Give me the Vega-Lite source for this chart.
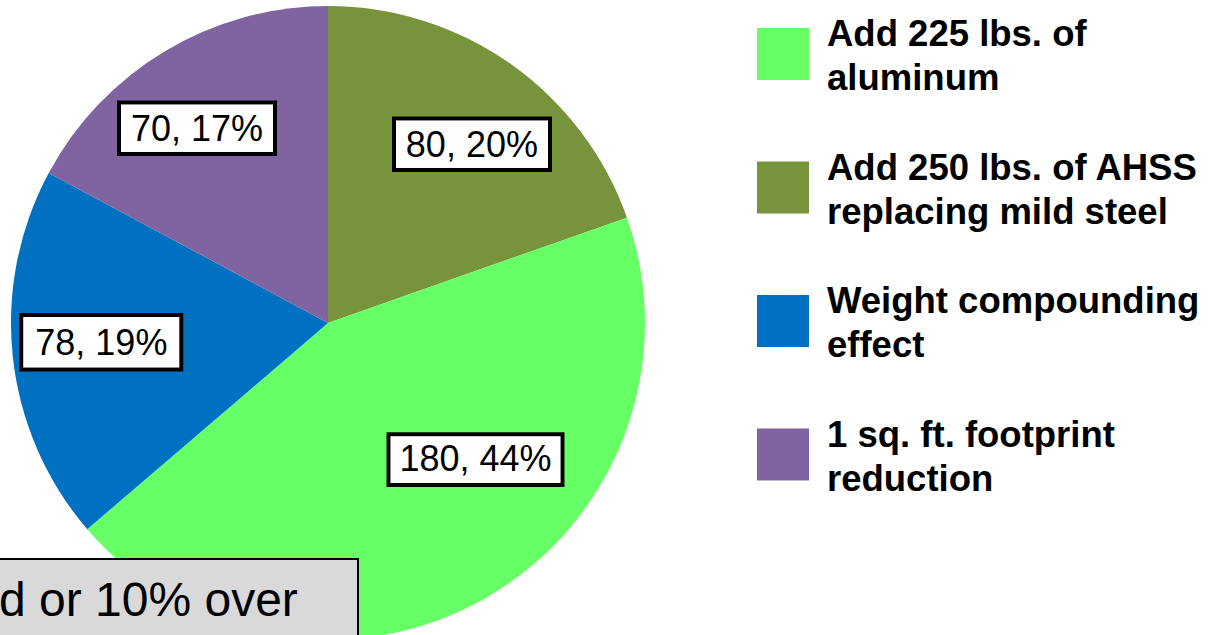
{
  "$schema": "https://vega.github.io/schema/vega-lite/v6.json",
  "width": 656,
  "height": 646,
  "autosize": {"type": "none"},
  "padding": {"left": 0, "top": 0, "right": 554, "bottom": 0},
  "background": "white",
  "config": {"view": {"stroke": null}, "style": {"guide-label": {"lineHeight": 44}}, "legend": {"strokeWidth": 2}},
  "data": {
    "values": [
      {"category": "Add 250 lbs. of AHSS replacing mild steel", "value": 80, "label": "80, 20%", "rank": 1},
      {"category": "Add 225 lbs. of aluminum", "value": 180, "label": "180, 44%", "rank": 2},
      {"category": "Weight compounding effect", "value": 78, "label": "78, 19%", "rank": 3},
      {"category": "1 sq. ft. footprint reduction", "value": 70, "label": "70, 17%", "rank": 4}
    ]
  },
  "layer": [
    {
      "mark": {"type": "arc", "outerRadius": 317},
      "encoding": {
        "theta": {"field": "value", "type": "quantitative", "stack": true},
        "order": {"field": "rank", "type": "quantitative"},
        "color": {
          "field": "category",
          "type": "nominal",
          "scale": {
            "domain": ["Add 225 lbs. of aluminum", "Add 250 lbs. of AHSS replacing mild steel", "Weight compounding effect", "1 sq. ft. footprint reduction"],
            "range": ["#66FF66", "#77933C", "#0070C0", "#8064A2"]
          },
          "legend": {
            "orient": "none",
            "legendX": 757,
            "legendY": 28,
            "title": null,
            "padding": 0,
            "symbolType": "square",
            "symbolSize": 2704,
            "symbolStrokeWidth": 0,
            "symbolOpacity": 1,
            "labelFont": "Liberation Sans",
            "labelFontSize": 36.5,
            "labelFontWeight": "bold",
            "labelColor": "#000000",
            "labelOffset": 18,
            "labelLimit": 600,
            "labelBaseline": "bottom",
            "rowPadding": 52.5,
            "labelExpr": "split(replace(replace(replace(replace(datum.label, ' aluminum', '|aluminum'), ' replacing', '|replacing'), ' effect', '|effect'), ' reduction', '|reduction'), '|')"
          }
        }
      }
    },
    {
      "mark": {"type": "text", "radius": 230, "font": "Liberation Sans", "fontSize": 112, "fill": "#000000", "stroke": "#000000", "strokeWidth": 48, "strokeJoin": "miter", "align": "center", "baseline": "middle", "dx": 11, "dy": 4},
      "encoding": {
        "theta": {"field": "value", "type": "quantitative", "stack": true},
        "order": {"field": "rank", "type": "quantitative"},
        "text": {"condition": {"test": "datum.rank === 1", "value": "—"}, "value": ""}
      }
    },
    {
      "mark": {"type": "text", "radius": 230, "font": "Liberation Sans", "fontSize": 112, "fill": "#FFFFFF", "stroke": "#FFFFFF", "strokeWidth": 40, "strokeJoin": "miter", "align": "center", "baseline": "middle", "dx": 11, "dy": 4},
      "encoding": {
        "theta": {"field": "value", "type": "quantitative", "stack": true},
        "order": {"field": "rank", "type": "quantitative"},
        "text": {"condition": {"test": "datum.rank === 1", "value": "—"}, "value": ""}
      }
    },
    {
      "mark": {"type": "text", "radius": 230, "font": "Liberation Sans", "fontSize": 36, "fill": "#000000", "align": "center", "baseline": "middle", "dx": 11, "dy": 11},
      "encoding": {
        "theta": {"field": "value", "type": "quantitative", "stack": true},
        "order": {"field": "rank", "type": "quantitative"},
        "text": {"condition": {"test": "datum.rank !== 1", "value": ""}, "field": "label"}
      }
    },
    {
      "mark": {"type": "text", "radius": 201, "font": "Liberation Sans", "fontSize": 132, "fill": "#000000", "stroke": "#000000", "strokeWidth": 46, "strokeJoin": "miter", "align": "center", "baseline": "middle", "dx": 47, "dy": -44},
      "encoding": {
        "theta": {"field": "value", "type": "quantitative", "stack": true},
        "order": {"field": "rank", "type": "quantitative"},
        "text": {"condition": {"test": "datum.rank === 2", "value": "—"}, "value": ""}
      }
    },
    {
      "mark": {"type": "text", "radius": 201, "font": "Liberation Sans", "fontSize": 132, "fill": "#FFFFFF", "stroke": "#FFFFFF", "strokeWidth": 38, "strokeJoin": "miter", "align": "center", "baseline": "middle", "dx": 47, "dy": -44},
      "encoding": {
        "theta": {"field": "value", "type": "quantitative", "stack": true},
        "order": {"field": "rank", "type": "quantitative"},
        "text": {"condition": {"test": "datum.rank === 2", "value": "—"}, "value": ""}
      }
    },
    {
      "mark": {"type": "text", "radius": 201, "font": "Liberation Sans", "fontSize": 36, "fill": "#000000", "align": "center", "baseline": "middle", "dx": 47, "dy": -37},
      "encoding": {
        "theta": {"field": "value", "type": "quantitative", "stack": true},
        "order": {"field": "rank", "type": "quantitative"},
        "text": {"condition": {"test": "datum.rank !== 2", "value": ""}, "field": "label"}
      }
    },
    {
      "mark": {"type": "text", "radius": 230, "font": "Liberation Sans", "fontSize": 113, "fill": "#000000", "stroke": "#000000", "strokeWidth": 51, "strokeJoin": "miter", "align": "center", "baseline": "middle", "dx": 2, "dy": -11},
      "encoding": {
        "theta": {"field": "value", "type": "quantitative", "stack": true},
        "order": {"field": "rank", "type": "quantitative"},
        "text": {"condition": {"test": "datum.rank === 3", "value": "—"}, "value": ""}
      }
    },
    {
      "mark": {"type": "text", "radius": 230, "font": "Liberation Sans", "fontSize": 113, "fill": "#FFFFFF", "stroke": "#FFFFFF", "strokeWidth": 43, "strokeJoin": "miter", "align": "center", "baseline": "middle", "dx": 2, "dy": -11},
      "encoding": {
        "theta": {"field": "value", "type": "quantitative", "stack": true},
        "order": {"field": "rank", "type": "quantitative"},
        "text": {"condition": {"test": "datum.rank === 3", "value": "—"}, "value": ""}
      }
    },
    {
      "mark": {"type": "text", "radius": 230, "font": "Liberation Sans", "fontSize": 36, "fill": "#000000", "align": "center", "baseline": "middle", "dx": 2, "dy": -4},
      "encoding": {
        "theta": {"field": "value", "type": "quantitative", "stack": true},
        "order": {"field": "rank", "type": "quantitative"},
        "text": {"condition": {"test": "datum.rank !== 3", "value": ""}, "field": "label"}
      }
    },
    {
      "mark": {"type": "text", "radius": 230, "font": "Liberation Sans", "fontSize": 112, "fill": "#000000", "stroke": "#000000", "strokeWidth": 48, "strokeJoin": "miter", "align": "center", "baseline": "middle", "dx": -13, "dy": -3},
      "encoding": {
        "theta": {"field": "value", "type": "quantitative", "stack": true},
        "order": {"field": "rank", "type": "quantitative"},
        "text": {"condition": {"test": "datum.rank === 4", "value": "—"}, "value": ""}
      }
    },
    {
      "mark": {"type": "text", "radius": 230, "font": "Liberation Sans", "fontSize": 112, "fill": "#FFFFFF", "stroke": "#FFFFFF", "strokeWidth": 40, "strokeJoin": "miter", "align": "center", "baseline": "middle", "dx": -13, "dy": -3},
      "encoding": {
        "theta": {"field": "value", "type": "quantitative", "stack": true},
        "order": {"field": "rank", "type": "quantitative"},
        "text": {"condition": {"test": "datum.rank === 4", "value": "—"}, "value": ""}
      }
    },
    {
      "mark": {"type": "text", "radius": 230, "font": "Liberation Sans", "fontSize": 36, "fill": "#000000", "align": "center", "baseline": "middle", "dx": -13, "dy": 4},
      "encoding": {
        "theta": {"field": "value", "type": "quantitative", "stack": true},
        "order": {"field": "rank", "type": "quantitative"},
        "text": {"condition": {"test": "datum.rank !== 4", "value": ""}, "field": "label"}
      }
    },
    {
      "data": {"values": [{"note": "d or 10% over"}]},
      "mark": {"type": "point", "opacity": 0},
      "encoding": {
        "shape": {
          "field": "note",
          "type": "nominal",
          "legend": {
            "orient": "none",
            "legendX": -20,
            "legendY": 559,
            "title": "d or 10% over",
            "titleFont": "Liberation Sans",
            "titleFontSize": 48,
            "titleFontWeight": "normal",
            "titleColor": "#000000",
            "titleLimit": 1000,
            "titlePadding": 0,
            "titleBaseline": "top",
            "padding": 19,
            "fillColor": "#D9D9D9",
            "strokeColor": "#000000",
            "symbolSize": 0,
            "symbolOpacity": 0,
            "symbolOffset": 0,
            "labelOffset": 0,
            "labelOpacity": 0,
            "labelFont": "Liberation Sans",
            "labelFontSize": 47,
            "labelLimit": 1000
          }
        }
      }
    }
  ]
}
